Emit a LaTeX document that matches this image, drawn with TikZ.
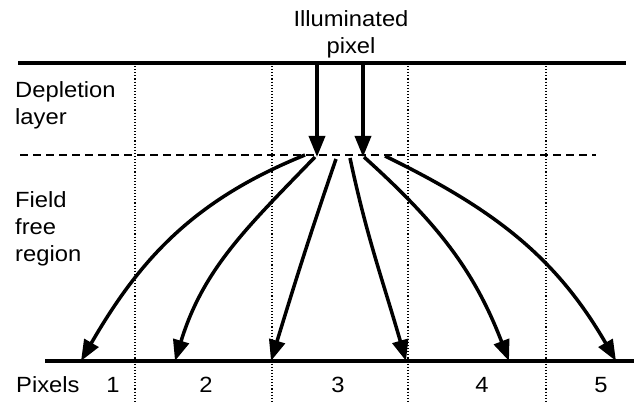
\documentclass[tikz,border=0pt]{standalone}
\usepackage{fontspec}
\setmainfont[FakeStretch=1.08]{Liberation Sans}
\usetikzlibrary{arrows.meta}

\begin{document}
\begin{tikzpicture}[x=1pt, y=-1pt,
                every node/.style={font=\fontsize{22}{27}\selectfont, inner sep=0pt},
                label/.style={align=left, anchor=west},
                layer/.style={line width=3.8pt},
                border/.style={dotted, line width=1.1pt},
                carrier/.style={line width=3.5pt, -{Triangle[length=21pt, width=16pt]}}]
                \useasboundingbox (0,0) rectangle (640,403);

                % Layers
                \draw[layer] (18,63) -- (626,63);
                \draw[dashed, line width=1.7pt, dash pattern=on 8pt off 5pt] (20,155) -- (596,155);
                \draw[layer] (45,361) -- (634,361);

                % Pixel borders
                \foreach \bx in {135,272,408,546}
                    \draw[border] (\bx,63) -- (\bx,403);

                % Labels
                \node[align=center] (illum) at (351,34) {Illuminated\\pixel};
                \node[label] (depl) at (15,105) {Depletion\\layer};
                \node[label] (ffree) at (15,229) {Field\\free\\region};
                \node[label] (pix) at (16,385) {Pixels};
                \node (p1) at (113,385) {1};
                \node (p2) at (206,385) {2};
                \node (p3) at (338,385) {3};
                \node (p4) at (482,385) {4};
                \node (p5) at (601,385) {5};

                % Incoming light
                \coordinate (in1) at (317,63);
                \coordinate (in2) at (363,63);
                \coordinate (d1) at (317,157);
                \coordinate (d2) at (363,157);
                \draw[carrier] (in1) -- (d1);
                \draw[carrier] (in2) -- (d2);

                % Diffusion paths
                \coordinate (s1) at (305,155);
                \coordinate (s2) at (315,157);
                \coordinate (s3) at (336,159);
                \coordinate (s4) at (350,158);
                \coordinate (s5) at (364,157);
                \coordinate (s6) at (385,156);
                \coordinate (e1) at (81,361);
                \coordinate (e2) at (175,361);
                \coordinate (e3) at (271,361);
                \coordinate (e4) at (406,361);
                \coordinate (e5) at (509,361);
                \coordinate (e6) at (616,361);
                \draw[carrier] (s1) to[out=202, in=60] (e1);
                \draw[carrier] (s2) to[out=226, in=73] (e2);
                \draw[carrier] (s3) to[out=251, in=73] (e3);
                \draw[carrier] (s4) to[out=282, in=106] (e4);
                \draw[carrier] (s5) to[out=318, in=111] (e5);
                \draw[carrier] (s6) to[out=334, in=120] (e6);
            \end{tikzpicture}
\end{document}
